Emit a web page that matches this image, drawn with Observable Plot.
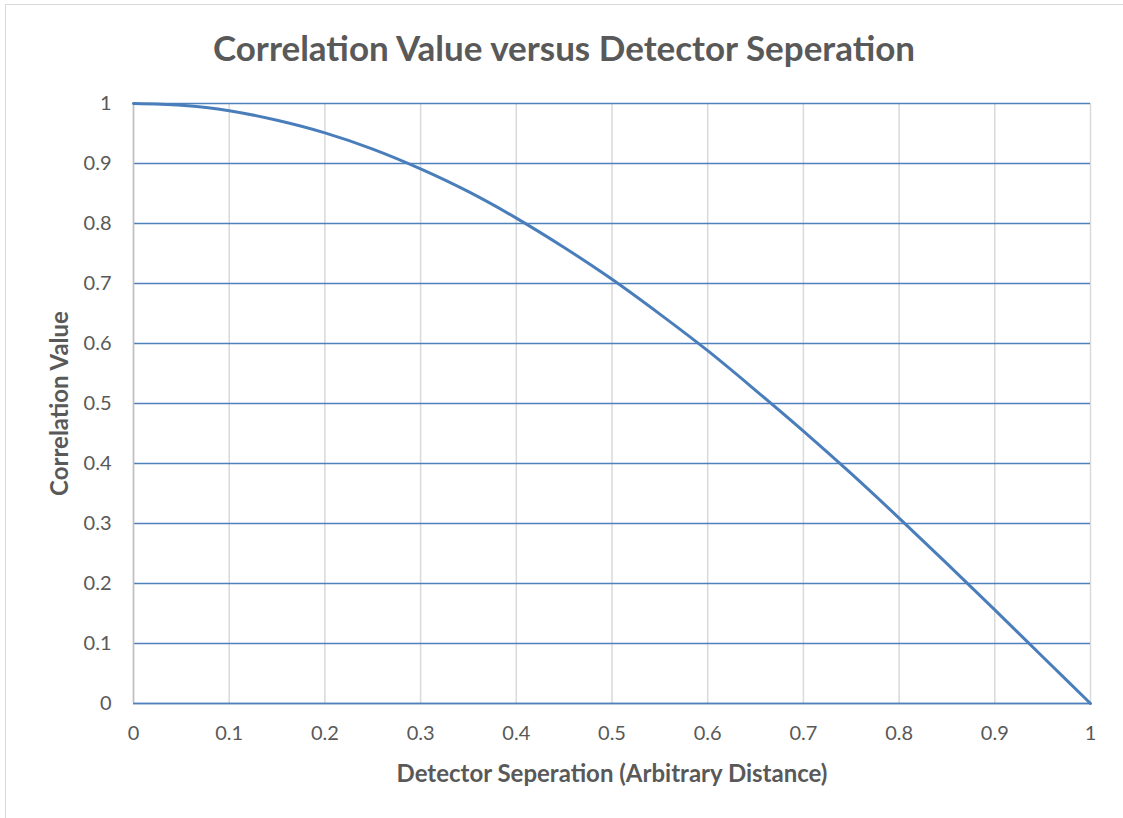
<!DOCTYPE html>
<html>
<head>
<meta charset="utf-8">
<script src="https://cdn.jsdelivr.net/npm/d3@7"></script>
<script src="https://cdn.jsdelivr.net/npm/@observablehq/plot@0.6"></script>
<style>
  html, body { margin: 0; padding: 0; background: #fff; overflow: hidden; }
  #frame { position: absolute; left: 5px; top: 4px; width: 1200px; height: 900px; border: 1px solid #d9d9d9; box-sizing: border-box; pointer-events: none; }
  #title { position: absolute; left: 0; top: 0; width: 1128px; height: 80px; line-height: 94px; text-align: center;
    font-family: Lato, sans-serif; font-weight: bold; font-size: 35px; color: #595959; }
  #chart { position: absolute; left: 0; top: 80px; }
</style>
</head>
<body>
<div id="frame"></div>
<div id="title">Correlation Value versus Detector Seperation</div>
<div id="chart"></div>
<script>
const separation = [0, 0.05, 0.1, 0.15, 0.2, 0.25, 0.3, 0.35, 0.4, 0.45, 0.5, 0.55, 0.6, 0.65, 0.7, 0.75, 0.8, 0.85, 0.9, 0.95, 1];
const correlation = [1, 0.997, 0.988, 0.972, 0.951, 0.924, 0.891, 0.853, 0.809, 0.760, 0.707, 0.649, 0.588, 0.522, 0.454, 0.383, 0.309, 0.233, 0.156, 0.078, 0];
const xTicks = [0, 0.1, 0.2, 0.3, 0.4, 0.5, 0.6, 0.7, 0.8, 0.9, 1];
const yTicks = [0, 0.1, 0.2, 0.3, 0.4, 0.5, 0.6, 0.7, 0.8, 0.9, 1];

const data = separation.map((x, i) => ({x, y: correlation[i]}));
const fmt = d => String(d);

const chart = Plot.plot({
  width: 1123,
  height: 738,
  marginLeft: 133,
  marginRight: 33,
  marginTop: 23,
  marginBottom: 115,
  style: { fontFamily: "Lato, sans-serif", fontSize: "20px", color: "#595959", background: "transparent", overflow: "visible" },
  x: { domain: [0, 1] },
  y: { domain: [0, 1] },
  marks: [
    Plot.ruleX(xTicks, { x: d => d, stroke: "#d9d9d9", strokeWidth: 1.5 }),
    Plot.ruleY(yTicks, { y: d => d, stroke: "#4f81bd", strokeWidth: 1.5 }),
    Plot.ruleX([0], { stroke: "#bfbfbf", strokeWidth: 1.5 }),
    Plot.ruleY([0], { stroke: "#4f81bd", strokeWidth: 1.5 }),
    Plot.axisX(xTicks, { tickSize: 0, tickPadding: 22, tickFormat: fmt, label: null, fill: "#595959" }),
    Plot.axisY(yTicks, { tickSize: 0, tickPadding: 22, tickFormat: fmt, label: null, fill: "#595959" }),
    Plot.text(["Detector Seperation (Arbitrary Distance)"], { frameAnchor: "bottom", dy: 78, fontWeight: "bold", fontSize: 24, fill: "#595959" }),
    Plot.text(["Correlation Value"], { frameAnchor: "left", dx: -73, rotate: -90, textAnchor: "middle", fontWeight: "bold", fontSize: 24, fill: "#595959" }),
    Plot.line(data, { x: "x", y: "y", stroke: "#4a7ebb", strokeWidth: 3, curve: "monotone-x" })
  ]
});
document.getElementById("chart").appendChild(chart);
</script>
</body>
</html>
